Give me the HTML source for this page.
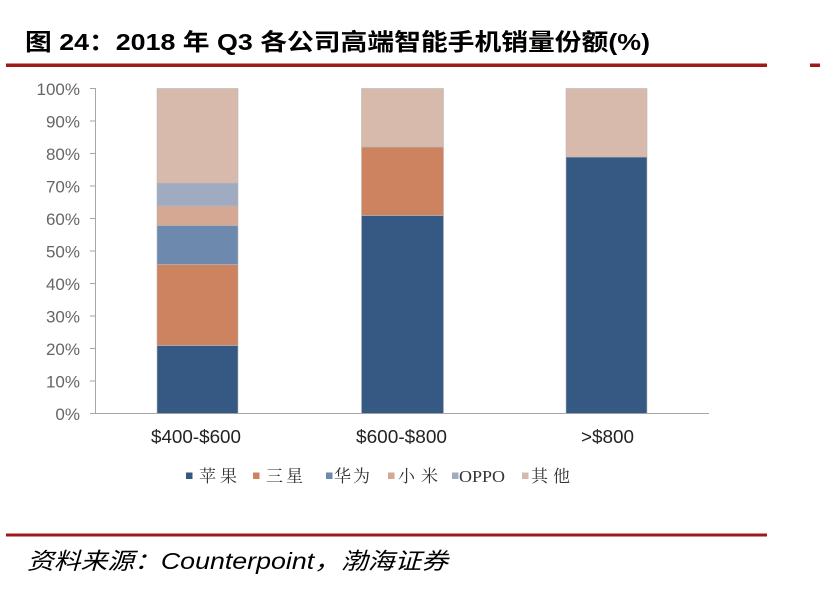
<!DOCTYPE html>
<html><head><meta charset="utf-8"><style>
html,body{margin:0;padding:0;background:#fff;}
svg{display:block;}
</style></head><body>
<svg width="820" height="591" viewBox="0 0 820 591" xmlns="http://www.w3.org/2000/svg">
<rect width="820" height="591" fill="#fff"/>
<!-- Title -->
<text x="25" y="50" font-family="'Liberation Sans','Noto Sans CJK SC',sans-serif" font-weight="bold" font-size="23.5" fill="#000" textLength="625" lengthAdjust="spacingAndGlyphs">图 24：2018 年 Q3 各公司高端智能手机销量份额(%)</text>
<rect x="6" y="63.5" width="761" height="3.5" fill="#9e1a1a"/>
<rect x="810" y="63.5" width="10" height="3.5" fill="#9e1a1a"/>

<!-- Y axis -->
<g stroke="#a6a6a6" stroke-width="1">
<line x1="95.5" y1="88" x2="95.5" y2="413.5"/>
<line x1="95" y1="413.5" x2="709" y2="413.5"/>
<line x1="90" y1="88.5" x2="95" y2="88.5"/>
<line x1="90" y1="121" x2="95" y2="121"/>
<line x1="90" y1="153.5" x2="95" y2="153.5"/>
<line x1="90" y1="186" x2="95" y2="186"/>
<line x1="90" y1="218.5" x2="95" y2="218.5"/>
<line x1="90" y1="251" x2="95" y2="251"/>
<line x1="90" y1="283.5" x2="95" y2="283.5"/>
<line x1="90" y1="316" x2="95" y2="316"/>
<line x1="90" y1="348.5" x2="95" y2="348.5"/>
<line x1="90" y1="381" x2="95" y2="381"/>
<line x1="90" y1="413.5" x2="95" y2="413.5"/>
</g>
<g font-family="'Liberation Sans',sans-serif" font-size="17" fill="#666" text-anchor="end">
<text x="80" y="95">100%</text>
<text x="80" y="127.5">90%</text>
<text x="80" y="160">80%</text>
<text x="80" y="192.5">70%</text>
<text x="80" y="225">60%</text>
<text x="80" y="257.5">50%</text>
<text x="80" y="290">40%</text>
<text x="80" y="322.5">30%</text>
<text x="80" y="355">20%</text>
<text x="80" y="387.5">10%</text>
<text x="80" y="420">0%</text>
</g>

<!-- Bars -->
<g stroke="#b8b8b8" stroke-width="0.6">
<rect x="157" y="345.5" width="81" height="68" fill="#355983"/>
<rect x="157" y="264.5" width="81" height="81" fill="#cd8260"/>
<rect x="157" y="225.5" width="81" height="39" fill="#6e89ae"/>
<rect x="157" y="206" width="81" height="19.5" fill="#d5a893"/>
<rect x="157" y="183" width="81" height="23" fill="#a0abc1"/>
<rect x="157" y="88.5" width="81" height="94.5" fill="#d8baac"/>
<rect x="361.5" y="215.5" width="82" height="198" fill="#355983"/>
<rect x="361.5" y="147" width="82" height="68.5" fill="#cd8260"/>
<rect x="361.5" y="88.5" width="82" height="58.5" fill="#d8baac"/>
<rect x="566" y="157" width="81" height="256.5" fill="#355983"/>
<rect x="566" y="88.5" width="81" height="68.5" fill="#d8baac"/>
</g>

<!-- X labels -->
<g font-family="'Liberation Sans',sans-serif" font-size="18.5" fill="#222">
<text x="151" y="443" textLength="90" lengthAdjust="spacingAndGlyphs">$400-$600</text>
<text x="356" y="443" textLength="91" lengthAdjust="spacingAndGlyphs">$600-$800</text>
<text x="581" y="443" textLength="53" lengthAdjust="spacingAndGlyphs">&gt;$800</text>
</g>

<!-- Legend -->
<rect x="186" y="472.5" width="6.5" height="6.5" fill="#355983"/>
<rect x="253" y="472.5" width="6.5" height="6.5" fill="#cd8260"/>
<rect x="326" y="472.5" width="6.5" height="6.5" fill="#6e89ae"/>
<rect x="388" y="472.5" width="6.5" height="6.5" fill="#d5a893"/>
<rect x="452" y="472.5" width="6.5" height="6.5" fill="#a0abc1"/>
<rect x="522" y="472.5" width="6.5" height="6.5" fill="#d8baac"/>
<g font-family="'Noto Serif CJK SC','Liberation Serif',serif" font-size="17" fill="#333">
<text x="199" y="482" textLength="38" lengthAdjust="spacing">苹果</text>
<text x="266" y="482" textLength="37" lengthAdjust="spacing">三星</text>
<text x="334" y="482" textLength="36" lengthAdjust="spacing">华为</text>
<text x="398" y="482" textLength="40" lengthAdjust="spacing">小米</text>
<text x="459" y="482" font-family="'Liberation Serif',serif" textLength="46" lengthAdjust="spacingAndGlyphs">OPPO</text>
<text x="531" y="482" textLength="39" lengthAdjust="spacing">其他</text>
</g>

<!-- Bottom -->
<rect x="6" y="533.5" width="761" height="3" fill="#9e1a1a"/>
<text x="27" y="569" font-family="'Liberation Sans','Noto Sans CJK SC',sans-serif" font-style="italic" font-size="23" fill="#000" textLength="421" lengthAdjust="spacingAndGlyphs">资料来源：Counterpoint，渤海证券</text>
</svg>
</body></html>
